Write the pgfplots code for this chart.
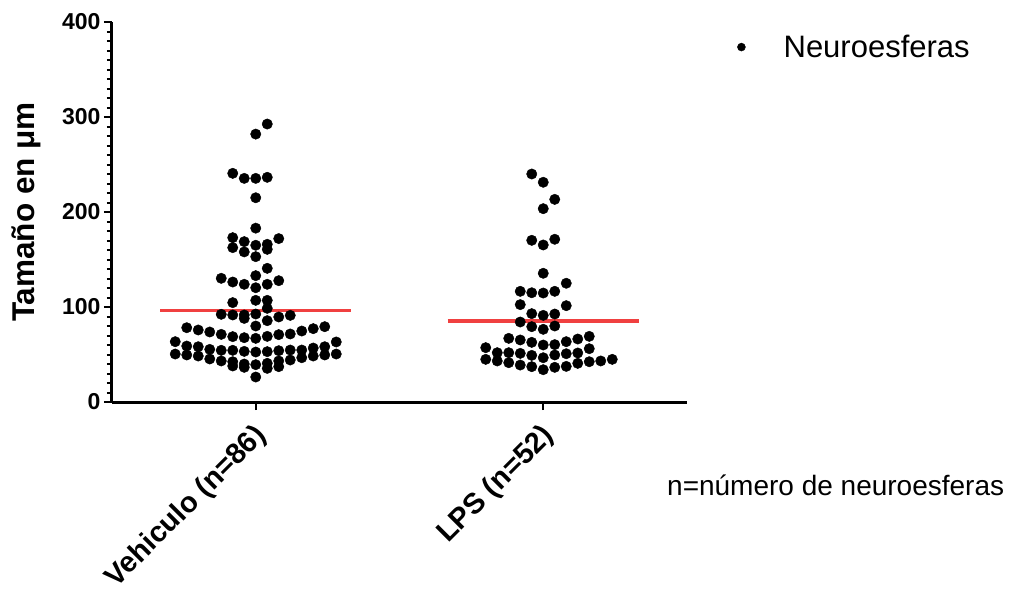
\documentclass[border=0pt]{standalone}
\usepackage{pgfplots}
\pgfplotsset{compat=1.18}
\usepackage{fontspec}
\setmainfont{Liberation Sans}
\definecolor{meanred}{RGB}{240,64,64}
\begin{document}
\begin{tikzpicture}
\useasboundingbox (-112bp,-190bp) rectangle (898bp,402bp);
\begin{axis}[
  at={(0,0)}, anchor=south west,
  scale only axis, width=575bp, height=380bp,
  xmin=0.5, xmax=2.5, ymin=0, ymax=400,
  axis lines*=left,
  axis line style={line width=3bp, black},
  xtick={1,2}, xticklabels={Vehiculo (n=86), LPS (n=52)},
  ytick={0,100,200,300,400},
  minor y tick num=9,
  tick align=outside,
  major tick length=8bp, minor tick length=5bp,
  every tick/.style={black, line width=2bp},
  /pgf/number format/assume math mode=true,
  yticklabel style={font=\fontsize{23bp}{25bp}\selectfont\bfseries},
  xticklabel style={font=\fontsize{29bp}{32bp}\selectfont\bfseries, xshift=7bp, yshift=-21bp, rotate=45, anchor=east, inner sep=1bp},
  ylabel={Tamaño en μm},
  ylabel style={font=\fontsize{31.5bp}{34bp}\selectfont\bfseries, at={(axis description cs:-0.1496,0.5)}, anchor=center},
  clip=false,
  legend style={at={(axis description cs:1.087,0.934)}, anchor=west, draw=none, fill=none,
    font=\fontsize{31bp}{34bp}\selectfont, inner sep=0pt, nodes={inner sep=0pt, text depth=0.15em}},
  legend cell align=left,
  legend image code/.code={\fill[black] (4bp,0) circle (4bp); \path (0,0) (46bp,0);},
]
\addplot[only marks, mark=*, mark size=5.2bp, black] coordinates {
(1.04,292.6) (1.00,282) (0.92,240.7) (0.96,235.4) (1.00,235.4) (1.04,236.5)
(1.00,215) (1.00,183) (0.92,173) (0.96,168.8) (1.08,172) (0.92,162.5)
(0.96,158) (1.00,165) (1.04,166) (1.04,160.7) (1.00,153) (1.04,140.7)
(1.00,133) (0.88,130.2) (0.92,126.3) (0.96,123.9) (1.00,120.3) (1.04,123.9)
(1.08,127.7) (0.92,104.6) (1.00,107) (1.04,107) (1.04,98.6)
(0.88,92.3) (0.92,91.6) (0.96,91.6) (0.96,88) (1.00,92.6) (1.04,85.6) (1.08,89.5) (1.12,91.2)
(1.00,80)
(0.76,78.2) (0.80,75.8) (0.84,73.7) (0.88,71.2) (0.92,68.8) (0.96,67.7) (1.00,67)
(1.04,69.1) (1.08,70.9) (1.12,71.6) (1.16,74.7) (1.20,77.2) (1.24,79.3)
(0.72,63.5) (0.76,58.9) (0.80,58.2) (0.84,55.4) (0.88,54.4) (0.92,54.4) (0.96,53.3) (1.00,52.6)
(1.04,53) (1.08,54) (1.12,54.7) (1.16,54.7) (1.20,56.8) (1.24,58.2) (1.28,63.2)
(0.72,50.5) (0.76,49.5) (0.80,48.4) (0.84,45.3) (0.88,43.2) (0.92,42.4) (0.92,37.9)
(0.96,40) (0.96,36.5) (1.00,39.3) (1.04,40.7) (1.04,35.4) (1.08,43.2) (1.08,37.2)
(1.12,44.2) (1.16,46.6) (1.20,48.4) (1.24,49.5) (1.28,50.5)
(1.00,26.3)
(1.96,240) (2.00,231.3) (2.04,213.3) (2.00,203.5) (1.96,170.2) (2.00,165.3) (2.04,171.3)
(2.00,135.5) (2.08,125) (1.92,116.5) (1.96,115) (2.00,114.7) (2.04,116.5)
(1.92,102.5) (2.08,101.4) (1.96,93) (2.00,91.2) (2.04,92.6) (1.92,84.2)
(1.96,79.3) (2.00,76.5) (2.04,80)
(1.88,67) (1.92,65.3) (1.96,62.8) (2.00,60) (2.04,60.4) (2.08,63.5) (2.12,66.3) (2.16,69.1)
(1.80,57.2) (1.84,51.9) (1.88,51.9) (1.92,51.2) (1.96,49.1) (2.00,46.6) (2.04,49.5)
(2.08,50.8) (2.12,51.6) (2.16,56.1)
(1.80,44.9) (1.84,43.2) (1.88,41.4) (1.92,38.9) (1.96,37.2) (2.00,34) (2.04,36.5)
(2.08,37.5) (2.12,40.7) (2.16,42.4) (2.20,43.2) (2.24,44.9)
};
\addlegendentry{Neuroesferas}
\addplot[meanred, line width=3.5bp, forget plot] coordinates {(0.667,96.1) (1.333,96.1)};
\addplot[meanred, line width=3.5bp, forget plot] coordinates {(1.667,85.3) (2.333,85.3)};
\node[anchor=west, inner sep=0pt, font=\fontsize{28bp}{30bp}\selectfont] at (axis description cs:0.9652,-0.2184) {n=número de neuroesferas};
\end{axis}
\end{tikzpicture}
\end{document}
